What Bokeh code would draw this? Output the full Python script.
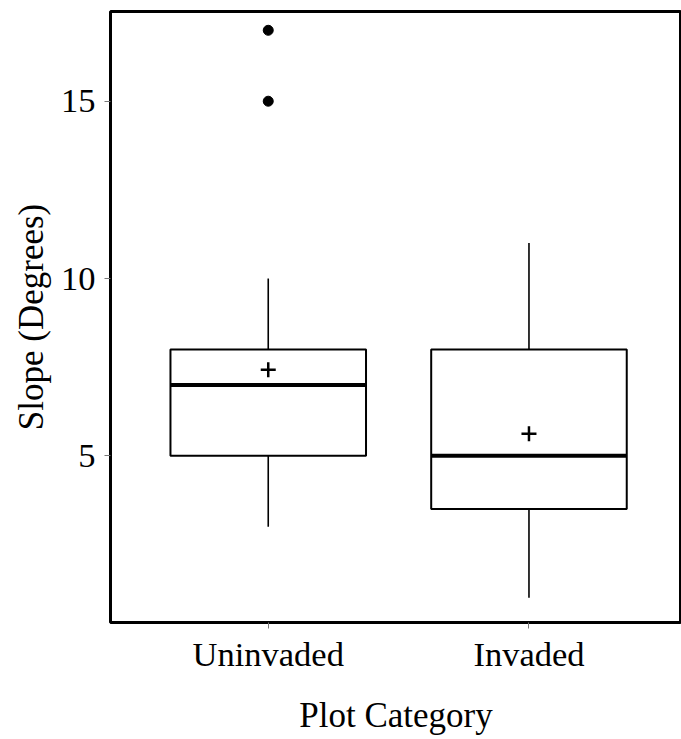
from bokeh.plotting import figure
from bokeh.models import Range1d, FixedTicker
from bokeh.embed import file_html
from bokeh.resources import INLINE

categories = ["Uninvaded", "Invaded"]
lower_whisker = [3, 1]
q1 = [5, 3.5]
median = [7, 5]
q3 = [8, 8]
upper_whisker = [10, 11]
means = [7.43, 5.62]
outlier_cat = ["Uninvaded", "Uninvaded"]
outlier_vals = [15, 17]
y_ticks = [5, 10, 15]

pos = {c: i + 1 for i, c in enumerate(categories)}
xs = [pos[c] for c in categories]
box_w = 0.75

p = figure(width=681, height=739, output_backend="svg", toolbar_location=None,
           x_range=Range1d(0.395, 2.585), y_range=Range1d(0.3, 17.53),
           min_border_left=110, min_border_right=0, min_border_top=11,
           min_border_bottom=117)
p.background_fill_color = "white"
p.border_fill_color = "white"
p.outline_line_color = "black"
p.outline_line_width = 3
p.xgrid.visible = False
p.ygrid.visible = False

# whiskers
p.segment(x0=xs, y0=q3, x1=xs, y1=upper_whisker, line_color="black", line_width=1.6)
p.segment(x0=xs, y0=lower_whisker, x1=xs, y1=q1, line_color="black", line_width=1.6)
# boxes
p.vbar(x=xs, width=box_w, bottom=q1, top=q3, fill_color="white",
       line_color="black", line_width=2)
# medians
p.segment(x0=[x - box_w / 2 for x in xs], y0=median,
          x1=[x + box_w / 2 for x in xs], y1=median,
          line_color="black", line_width=4)
# means
p.scatter(x=xs, y=means, marker="cross", size=15, line_color="black", line_width=2.5)
# outliers
p.scatter(x=[pos[c] for c in outlier_cat], y=outlier_vals, marker="circle",
          size=10, fill_color="black", line_color="black")

font = "Liberation Serif"
for ax in (p.xaxis[0], p.yaxis[0]):
    ax.axis_line_color = None
    ax.major_tick_in = 0
    ax.major_tick_out = 6
    ax.major_tick_line_color = "#777777"
    ax.major_tick_line_width = 1
    ax.minor_tick_line_color = None
    ax.major_label_text_font = font
    ax.major_label_text_font_size = "34.5px"
    ax.major_label_text_color = "black"
    ax.axis_label_text_font = font
    ax.axis_label_text_font_size = "35px"
    ax.axis_label_text_font_style = "normal"
    ax.axis_label_text_color = "black"

p.xaxis[0].ticker = FixedTicker(ticks=xs)
p.xaxis[0].major_label_overrides = {pos[c]: c for c in categories}
p.xaxis[0].axis_label = "Plot Category"
p.xaxis[0].major_label_standoff = 6
p.xaxis[0].axis_label_standoff = 20

p.yaxis[0].ticker = FixedTicker(ticks=y_ticks)
p.yaxis[0].axis_label = "Slope (Degrees)"
p.yaxis[0].major_label_standoff = 9
p.yaxis[0].axis_label_standoff = 7

open("out.html", "w").write(file_html(p, INLINE))
